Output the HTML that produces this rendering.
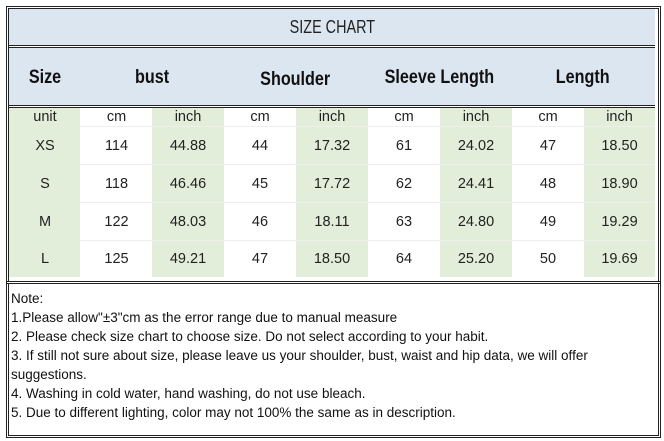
<!DOCTYPE html>
<html><head><style>
body{margin:0;width:664px;height:441px;background:#fff;position:relative;overflow:hidden;font-family:"Liberation Sans","DejaVu Sans",sans-serif}
.a{position:absolute}
.c{position:absolute;display:flex;align-items:center;justify-content:center;font-size:14.5px;color:#222}
.h{font-family:"Liberation Sans","DejaVu Sans",sans-serif;font-weight:bold;font-size:19px;color:#111}
.h span{display:inline-block;transform:scaleX(0.85)}
.g{background:#e2eed9}
.notes{font-size:13.5px;line-height:19px;color:#111}
</style></head><body>
<div class="a" style="left:6px;top:6px;width:649px;height:272px;border:3px double #222"></div>
<div class="a" style="left:9px;top:9px;width:646px;height:36px;background:#dce6f1"></div>
<div class="c" style="left:9px;top:9px;width:646px;height:36px;font-size:18px"><span style="display:inline-block;transform:scaleX(0.8)">SIZE CHART</span></div>
<div class="a" style="left:9px;top:45px;width:646px;height:3px;border-top:1px solid #222;border-bottom:1px solid #222;box-sizing:border-box"></div>
<div class="a" style="left:9px;top:48px;width:646px;height:57px;background:#dce6f1"></div>
<div class="a" style="left:9px;top:105px;width:646px;height:3px;border-top:1px solid #222;border-bottom:1px solid #222;box-sizing:border-box"></div>
<div class="c h" style="left:9px;top:50px;width:72px;height:55px"><span>Size</span></div>
<div class="c h" style="left:81px;top:50px;width:143px;height:55px"><span>bust</span></div>
<div class="c h" style="left:224px;top:52px;width:143px;height:55px"><span>Shoulder</span></div>
<div class="c h" style="left:368px;top:50px;width:143px;height:55px"><span>Sleeve Length</span></div>
<div class="c h" style="left:511px;top:50px;width:144px;height:55px"><span>Length</span></div>
<div class="a g" style="left:9px;top:108px;width:71px;height:169px"></div>
<div class="a g" style="left:152px;top:108px;width:72px;height:169px"></div>
<div class="a g" style="left:296px;top:108px;width:72px;height:169px"></div>
<div class="a g" style="left:440px;top:108px;width:72px;height:169px"></div>
<div class="a g" style="left:584px;top:108px;width:71px;height:169px"></div>
<div class="a" style="left:80px;top:126px;width:575px;height:1px;background:#eee"></div>
<div class="a" style="left:80px;top:164px;width:575px;height:1px;background:#eee"></div>
<div class="a" style="left:80px;top:202px;width:575px;height:1px;background:#eee"></div>
<div class="a" style="left:80px;top:240px;width:575px;height:1px;background:#eee"></div>
<div id="t"></div>
<div class="a" style="left:6px;top:281px;width:649px;height:151px;border:3px double #222"></div>
<div class="a notes" style="left:11px;top:289px;width:645px">Note:<br>1.Please allow"±3"cm as the error range due to manual measure<br>2. Please check size chart to choose size. Do not select according to your habit.<br>3. If still not sure about size, please leave us your shoulder, bust, waist and hip data, we will offer suggestions.<br>4. Washing in cold water, hand washing, do not use bleach.<br>5. Due to different lighting, color may not 100% the same as in description.</div>
<script>
var xs=[9,81,152,224,296,368,440,512,584,655];
var rows=[["unit","cm","inch","cm","inch","cm","inch","cm","inch"],
["XS","114","44.88","44","17.32","61","24.02","47","18.50"],
["S","118","46.46","45","17.72","62","24.41","48","18.90"],
["M","122","48.03","46","18.11","63","24.80","49","19.29"],
["L","125","49.21","47","18.50","64","25.20","50","19.69"]];
var ys=[[108,18],[127,37],[165,37],[203,37],[241,36]];
var h="";
rows.forEach(function(r,i){r.forEach(function(v,j){h+='<div class="c" style="left:'+xs[j]+'px;top:'+ys[i][0]+'px;width:'+(xs[j+1]-xs[j])+'px;height:'+ys[i][1]+'px">'+v+'</div>';});});
document.getElementById('t').innerHTML=h;
</script>
</body></html>
